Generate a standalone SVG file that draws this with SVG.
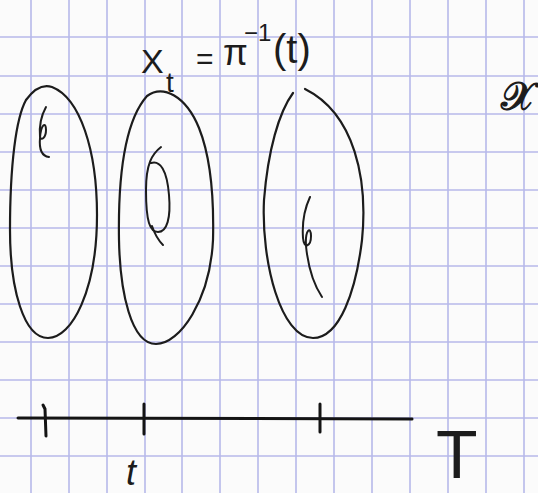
<svg xmlns="http://www.w3.org/2000/svg" width="538" height="493" viewBox="0 0 538 493">
<style>
.grid line{stroke:#b7b9ea;stroke-width:1.6}
.shape{fill:none;stroke:#1c1c1c;stroke-width:2.2;stroke-linecap:round;stroke-linejoin:round}
.fine{fill:none;stroke:#1c1c1c;stroke-width:2;stroke-linecap:round}
.axis{fill:none;stroke:#141414;stroke-width:3;stroke-linecap:round}
.lbl{font-family:"Liberation Sans","DejaVu Sans",sans-serif;fill:#1c1c1c}
</style>
<rect width="538" height="493" fill="#fbfbfb"/>
<g class="grid">
<line x1="31" y1="0" x2="31" y2="493"/><line x1="69" y1="0" x2="69" y2="493"/><line x1="107" y1="0" x2="107" y2="493"/><line x1="145" y1="0" x2="145" y2="493"/><line x1="182" y1="0" x2="182" y2="493"/><line x1="220" y1="0" x2="220" y2="493"/><line x1="258" y1="0" x2="258" y2="493"/><line x1="296" y1="0" x2="296" y2="493"/><line x1="334" y1="0" x2="334" y2="493"/><line x1="372" y1="0" x2="372" y2="493"/><line x1="410" y1="0" x2="410" y2="493"/><line x1="448" y1="0" x2="448" y2="493"/><line x1="486" y1="0" x2="486" y2="493"/><line x1="524" y1="0" x2="524" y2="493"/>
<line x1="0" y1="37" x2="538" y2="37"/><line x1="0" y1="76" x2="538" y2="76"/><line x1="0" y1="114" x2="538" y2="114"/><line x1="0" y1="152" x2="538" y2="152"/><line x1="0" y1="190" x2="538" y2="190"/><line x1="0" y1="228" x2="538" y2="228"/><line x1="0" y1="266" x2="538" y2="266"/><line x1="0" y1="304" x2="538" y2="304"/><line x1="0" y1="342" x2="538" y2="342"/><line x1="0" y1="380" x2="538" y2="380"/><line x1="0" y1="418" x2="538" y2="418"/><line x1="0" y1="456" x2="538" y2="456"/>
</g>
<g id="fiber1">
<path class="shape" d="M26,100 C34,89 43,84 52,87 C80,98 97,150 97,215 C97,290 72,338 48,338 C24,338 10,290 10,230 C10,165 16,118 26,100"/>
<path class="fine" d="M46,107 C41,116 39,126 40,137 C41,141 46,138 46,130 C46,121 41,124 40,138 C39,149 41,156 49,157"/>
</g>
<g id="fiber2">
<path class="shape" d="M147,96 C163,84 186,96 199,128 C211,158 214,200 213,240 C210,300 180,344 156,344 C131,344 120,292 119,240 C118,180 124,122 147,96"/>
<path class="fine" d="M161,147 C152,154 146,164 146,190 C146,222 150,232 158,232 C167,232 171,218 169,195 C167,170 160,160 151,163 M152,226 C155,235 158,240 163,245"/>
</g>
<g id="fiber3">
<path class="shape" d="M293,93 C279,112 268,150 264,200 C261,262 281,338 313,338 C340,338 356,290 362,240 C368,180 355,114 305,89"/>
<path class="fine" d="M310,197 C304,210 302,224 303,238 C304,250 311,246 311,236 C311,226 305,229 306,246 C308,266 314,285 322,297"/>
</g>
<g id="connectors">
<path class="axis" d="M18,418 L412,419"/>
<path class="axis" d="M43,405 L45,409 L46,436"/>
<path class="axis" d="M144,404 L144,434"/>
<path class="axis" d="M320,404 L320,432"/>
</g>
<g id="label-Xt">
<text class="lbl"><tspan x="141" y="73" font-size="34">X</tspan><tspan x="166" y="92" font-size="28">t</tspan><tspan x="196" y="69" font-size="30">=</tspan><tspan x="223" y="65" font-size="36">π</tspan><tspan x="244" y="41" font-size="24">−1</tspan><tspan x="273" y="63" font-size="40">(t)</tspan></text>
</g>
<g id="label-space">
<text class="lbl" x="501" y="110" font-size="40" stroke="#1c1c1c" stroke-width="1.2" font-family="'DejaVu Serif',serif">𝒳</text>
</g>
<g id="label-t">
<text class="lbl" x="126" y="485" font-size="36" font-style="italic">t</text>
</g>
<g id="label-T">
<text class="lbl" x="436" y="478" font-size="68">T</text>
</g>
</svg>
